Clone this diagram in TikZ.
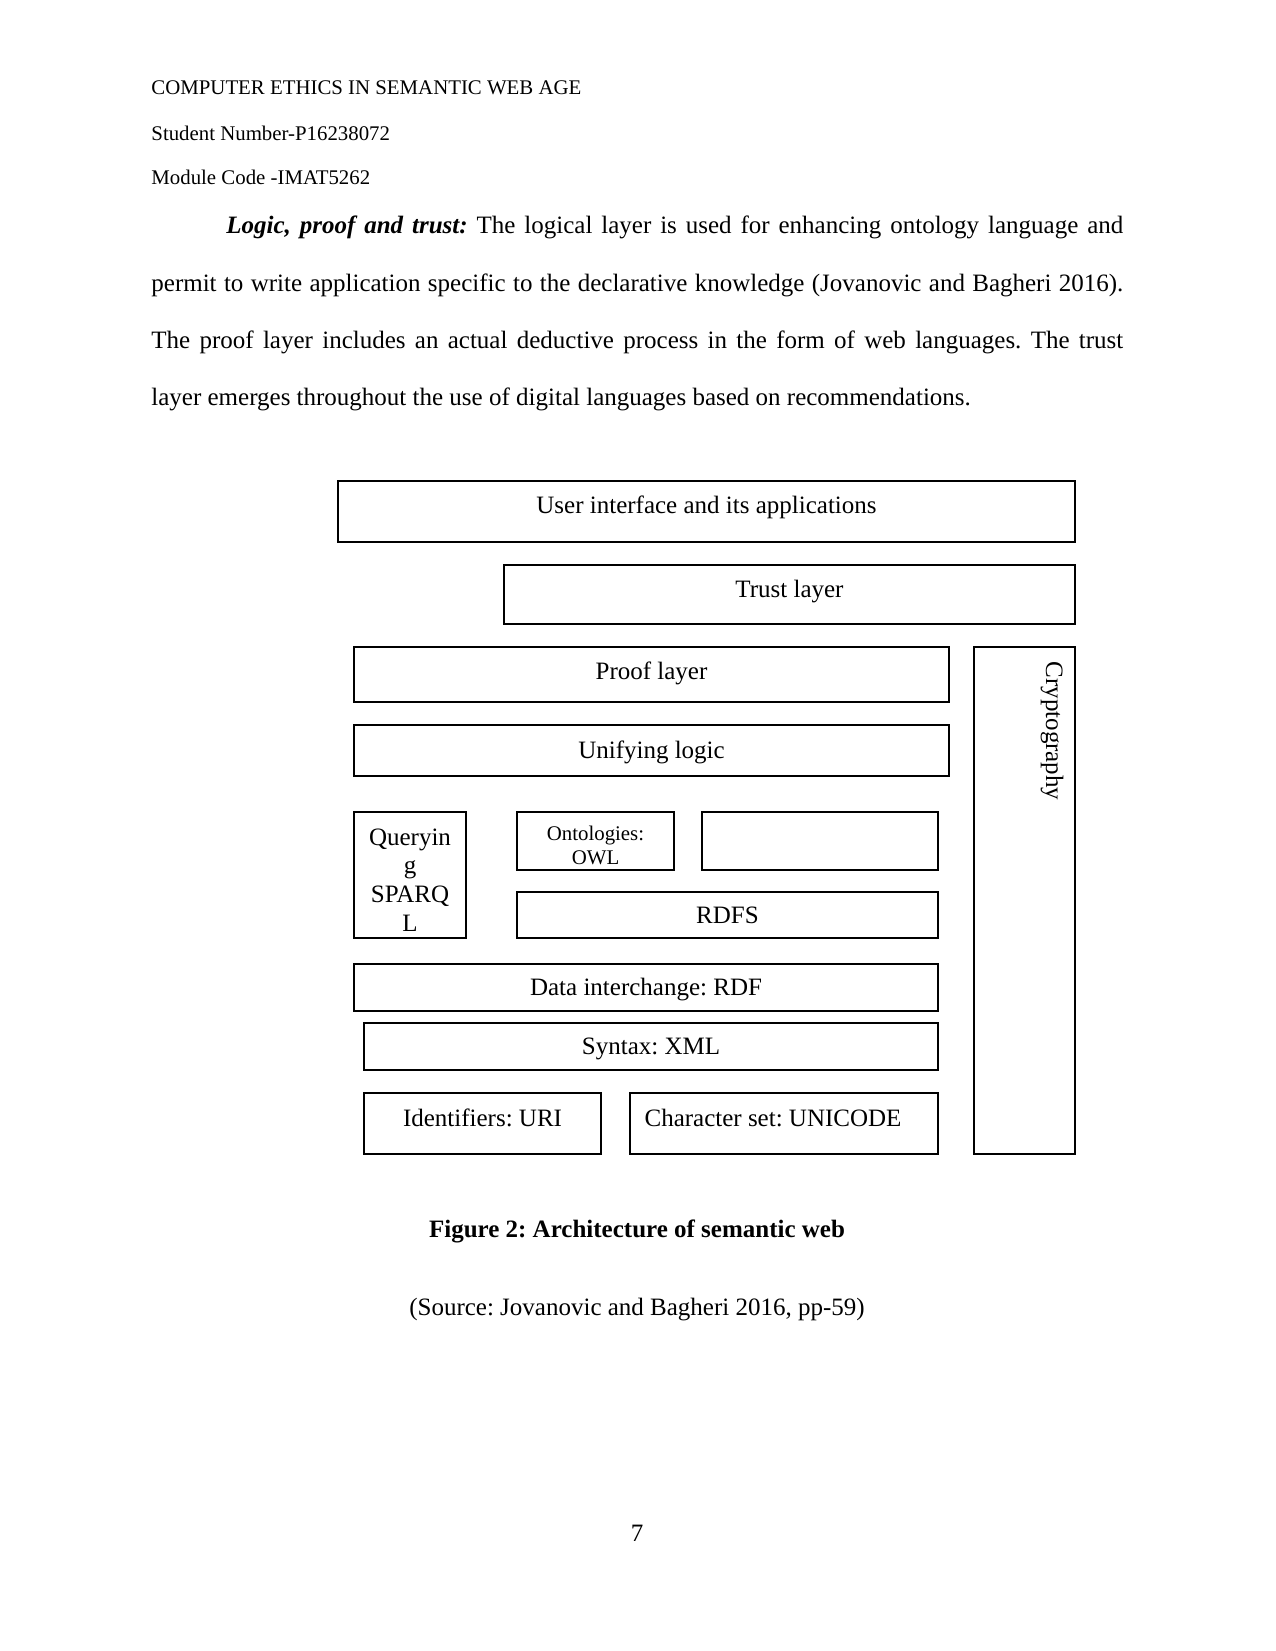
\documentclass[tikz,border=0pt]{standalone}
\usepackage{fontspec}
\setmainfont{Liberation Serif}
\usepackage{tikz}
\usetikzlibrary{positioning, fit}
\frenchspacing

\tikzset{
  layer/.style={draw=black, line width=0.55pt, inner sep=0pt},
  lbl/.style={inner sep=0pt, anchor=base, font=\fontsize{12}{13.8}\selectfont},
  smalllbl/.style={inner sep=0pt, align=center, font=\fontsize{10}{11.5}\selectfont},
  headline/.style={inner sep=0pt, anchor=base west, font=\fontsize{10}{12}\selectfont},
}

\begin{document}
\begin{tikzpicture}[x=0.48pt, y=-0.48pt]
    \useasboundingbox[fill=white] (0,0) rectangle (1275,1651);

    % page header
    \node[headline] (hdone) at (151,95) {COMPUTER ETHICS IN SEMANTIC WEB AGE};
    \node[headline] (hdtwo) at (151,141) {Student Number-P16238072};
    \node[headline] (hdthree) at (151,185) {Module Code -IMAT5262};

    % body paragraph
    \node[inner sep=0pt, anchor=base west, text width=466.5pt, align=justify,
          font=\fontsize{12}{27.5}\selectfont] (para) at (151,234)
      {\hspace*{36pt}\textbf{\textit{Logic, proof and trust:}} The logical layer is used for enhancing ontology language and\linebreak
       permit to write application specific to the declarative knowledge (Jovanovic and Bagheri 2016).\linebreak
       The proof layer includes an actual deductive process in the form of web languages. The trust\linebreak
       layer emerges throughout the use of digital languages based on recommendations.};

    % the layer boxes
    \node[layer, fit={(338,481) (1075,542)}] (ui) {};
    \node[layer, fit={(504,565) (1075,624)}] (trust) {};
    \node[layer, fit={(354,647) (949,702)}] (proof) {};
    \node[layer, fit={(354,725) (949,776)}] (logic) {};
    \node[layer, fit={(974,647) (1075,1154)}] (crypto) {};
    \node[layer, fit={(354,812) (466,938)}] (query) {};
    \node[layer, fit={(517,812) (674,870)}] (owl) {};
    \node[layer, fit={(702,812) (938,870)}] (blank) {};
    \node[layer, fit={(517,892) (938,938)}] (rdfs) {};
    \node[layer, fit={(354,964) (938,1011)}] (rdf) {};
    \node[layer, fit={(364,1023) (938,1070)}] (xml) {};
    \node[layer, fit={(364,1093) (601,1154)}] (uri) {};
    \node[layer, fit={(630,1093) (938,1154)}] (unicode) {};

    % labels
    \node[lbl] (uitxt) at (706.5,513) {User interface and its applications};
    \node[lbl] (trusttxt) at (789.5,597) {Trust layer};
    \node[lbl] (prooftxt) at (651.5,679) {Proof layer};
    \node[lbl] (logictxt) at (651.5,758) {Unifying logic};
    \node[lbl, anchor=center, rotate=-90] (cryptotxt) at (1052,731) {Cryptography};
    \node[lbl, anchor=center, align=center] (querytxt) at (410,880) {Queryin\\g\\SPARQ\\L};
    \node[smalllbl] (owltxt) at (595.5,845) {Ontologies:\\OWL};
    \node[lbl] (rdfstxt) at (727.5,923) {RDFS};
    \node[lbl] (rdftxt) at (646,995) {Data interchange: RDF};
    \node[lbl] (xmltxt) at (651,1054) {Syntax: XML};
    \node[lbl] (uritxt) at (482.5,1126) {Identifiers: URI};
    \node[lbl] (unicodetxt) at (773,1126) {Character set: UNICODE};

    % caption and source
    \node[lbl, font=\fontsize{12}{13.8}\selectfont\bfseries] (caption) at (637,1237) {Figure 2: Architecture of semantic web};
    \node[lbl] (source) at (637,1315) {(Source: Jovanovic and Bagheri 2016, pp-59)};
    \node[lbl] (pagenum) at (637,1541) {7};
  \end{tikzpicture}
\end{document}
